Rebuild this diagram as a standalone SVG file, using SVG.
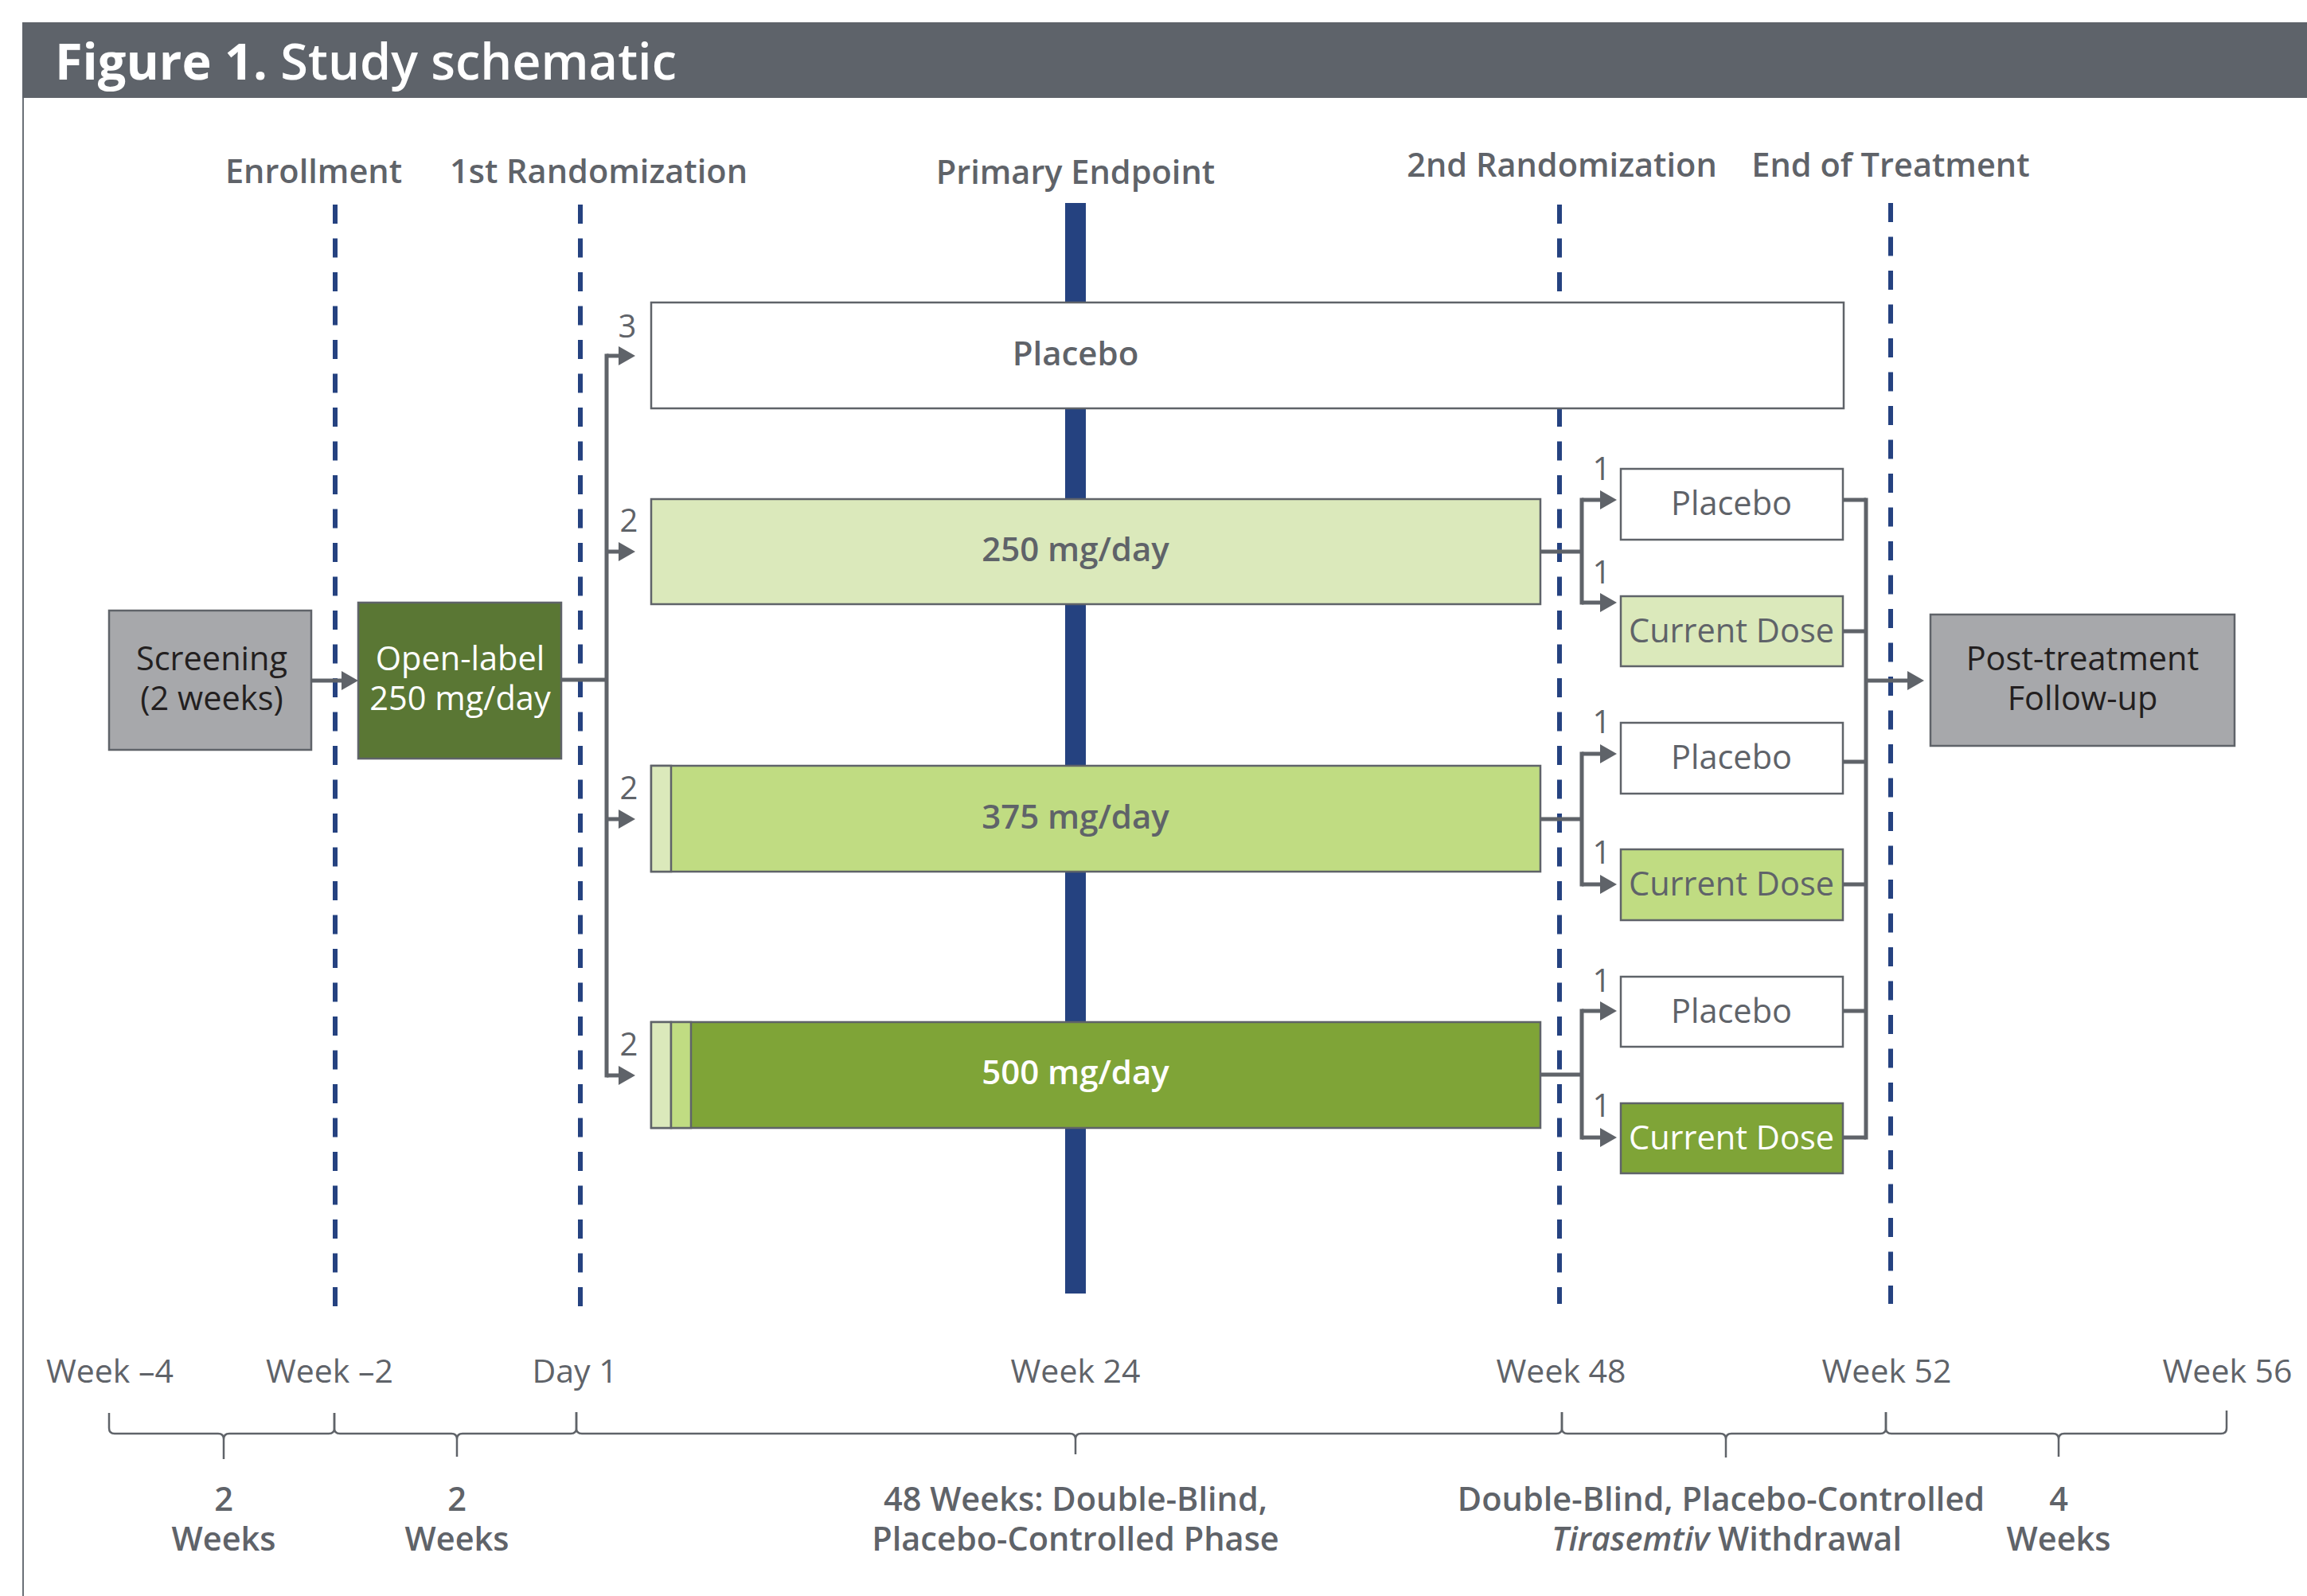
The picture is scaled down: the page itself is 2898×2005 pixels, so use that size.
<svg xmlns="http://www.w3.org/2000/svg" width="2898" height="2005" viewBox="0 0 2898 2005">
  <style>
    text { font-family: "Open Sans", "Noto Sans", "Liberation Sans", sans-serif; }
    .title { fill: #ffffff; font-size: 63px; font-weight: 700; }
    .milestone { fill: #5f6369; font-size: 41.5px; font-weight: 600; text-anchor: middle; }
    .week { fill: #5f6369; font-size: 41px; font-weight: 400; text-anchor: middle; }
    .span { fill: #5f6369; font-size: 41.5px; font-weight: 600; text-anchor: middle; }
    .ratio { fill: #5f6369; font-size: 40px; font-weight: 400; text-anchor: middle; }
    .box { stroke: #5f6369; stroke-width: 2.5; }
    .dark { fill: #231f20; font-size: 41.5px; text-anchor: middle; }
    .white { fill: #ffffff; font-size: 41.5px; text-anchor: middle; }
    .grey { fill: #5f6369; font-size: 41.5px; text-anchor: middle; }
    .armlabel { font-size: 42px; font-weight: 600; text-anchor: middle; }
    .dash { stroke: #254280; stroke-width: 6; stroke-dasharray: 24 18.5; fill: none; }
    .conn { stroke: #5f6369; stroke-width: 5; fill: none; }
    .brace { stroke: #5f6369; stroke-width: 2.5; fill: none; }
  </style>
  <defs>
    <marker id="arrow" markerUnits="userSpaceOnUse" markerWidth="22" markerHeight="24" refX="0" refY="12" orient="auto" overflow="visible">
      <path d="M0,0 L21,12 L0,24 Z" fill="#5f6369"/>
    </marker>
  </defs>

  <rect width="2898" height="2005" fill="#ffffff"/>

  <!-- header band -->
  <g id="header">
    <rect x="28" y="28" width="2870" height="95" fill="#5e636a"/>
    <line x1="29" y1="123" x2="29" y2="2005" stroke="#6b7077" stroke-width="2"/>
    <text class="title" x="69" y="100">Figure 1.<tspan font-weight="600"> Study schematic</tspan></text>
  </g>

  <!-- milestone markers -->
  <g id="milestones">
    <text class="milestone" x="394" y="230">Enrollment</text>
    <text class="milestone" x="752" y="230">1st Randomization</text>
    <text class="milestone" x="1351" y="231">Primary Endpoint</text>
    <text class="milestone" x="1962" y="222">2nd Randomization</text>
    <text class="milestone" x="2375" y="222">End of Treatment</text>
    <path class="dash" d="M421,257 V1641"/>
    <path class="dash" d="M729,257 V1641"/>
    <path class="dash" d="M1959,257 V1638"/>
    <path class="dash" d="M2375,255 V1638"/>
    <rect id="primary-endpoint-bar" x="1338" y="255" width="26" height="1370" fill="#254280"/>
  </g>

  <!-- connectors -->
  <g id="connectors">
    <path class="conn" d="M391,855 H429" marker-end="url(#arrow)"/>
    <path class="conn" d="M705,854 H762"/>
    <path class="conn" d="M762,444.5 V1353.5"/>
    <path class="conn" d="M762,447 H777" marker-end="url(#arrow)"/>
    <path class="conn" d="M762,693 H777" marker-end="url(#arrow)"/>
    <path class="conn" d="M762,1029 H777" marker-end="url(#arrow)"/>
    <path class="conn" d="M762,1351 H777" marker-end="url(#arrow)"/>

    <path class="conn" d="M1935,693 H1987"/>
    <path class="conn" d="M1987,625.5 V759.5"/>
    <path class="conn" d="M1987,628 H2010" marker-end="url(#arrow)"/>
    <path class="conn" d="M1987,757 H2010" marker-end="url(#arrow)"/>

    <path class="conn" d="M1935,1029 H1987"/>
    <path class="conn" d="M1987,944.5 V1113.5"/>
    <path class="conn" d="M1987,947 H2010" marker-end="url(#arrow)"/>
    <path class="conn" d="M1987,1111 H2010" marker-end="url(#arrow)"/>

    <path class="conn" d="M1935,1350 H1987"/>
    <path class="conn" d="M1987,1267.5 V1431.5"/>
    <path class="conn" d="M1987,1270 H2010" marker-end="url(#arrow)"/>
    <path class="conn" d="M1987,1429 H2010" marker-end="url(#arrow)"/>

    <path class="conn" d="M2315,628 H2344 M2315,793 H2344 M2315,957 H2344 M2315,1111 H2344 M2315,1270 H2344 M2315,1429 H2344"/>
    <path class="conn" d="M2344,625.5 V1431.5"/>
    <path class="conn" d="M2344,855 H2396" marker-end="url(#arrow)"/>

    <text class="ratio" x="788" y="424">3</text>
    <text class="ratio" x="790" y="668">2</text>
    <text class="ratio" x="790" y="1004">2</text>
    <text class="ratio" x="790" y="1326">2</text>
    <text class="ratio" x="2012" y="603">1</text>
    <text class="ratio" x="2012" y="733">1</text>
    <text class="ratio" x="2012" y="921">1</text>
    <text class="ratio" x="2012" y="1085">1</text>
    <text class="ratio" x="2012" y="1246">1</text>
    <text class="ratio" x="2012" y="1403">1</text>
  </g>

  <!-- nodes -->
  <g id="screening">
    <rect class="box" x="137" y="767" width="254" height="175" fill="#a7a8ab"/>
    <text class="dark" x="266" y="842">Screening</text>
    <text class="dark" x="266" y="892">(2 weeks)</text>
  </g>
  <g id="open-label">
    <rect class="box" x="450" y="757" width="255" height="196" fill="#5a7734"/>
    <text class="white" x="578" y="842">Open-label</text>
    <text class="white" x="578" y="892">250 mg/day</text>
  </g>

  <g id="arm-placebo">
    <rect class="box" x="818" y="380" width="1498" height="133" fill="#ffffff"/>
    <text class="armlabel" x="1351" y="459" fill="#5f6369">Placebo</text>
  </g>
  <g id="arm-250">
    <rect class="box" x="818" y="627" width="1117" height="132" fill="#dbe9bb"/>
    <text class="armlabel" x="1351" y="705" fill="#5f6369">250 mg/day</text>
  </g>
  <g id="arm-375">
    <rect class="box" x="818" y="962" width="1117" height="133" fill="#c0dc82"/>
    <rect class="box" x="818" y="962" width="25" height="133" fill="#dbe9bb"/>
    <text class="armlabel" x="1351" y="1041" fill="#5f6369">375 mg/day</text>
  </g>
  <g id="arm-500">
    <rect class="box" x="818" y="1284" width="1117" height="133" fill="#7fa437"/>
    <rect class="box" x="818" y="1284" width="25" height="133" fill="#dbe9bb"/>
    <rect class="box" x="843" y="1284" width="25" height="133" fill="#c0dc82"/>
    <text class="armlabel" x="1351" y="1362" fill="#ffffff">500 mg/day</text>
  </g>

  <g id="w250-placebo">
    <rect class="box" x="2036" y="589" width="279" height="89" fill="#ffffff"/>
    <text class="grey" x="2175" y="647">Placebo</text>
  </g>
  <g id="w250-current">
    <rect class="box" x="2036" y="749" width="279" height="88" fill="#dbe9bb"/>
    <text class="grey" x="2175" y="807">Current Dose</text>
  </g>
  <g id="w375-placebo">
    <rect class="box" x="2036" y="908" width="279" height="89" fill="#ffffff"/>
    <text class="grey" x="2175" y="966">Placebo</text>
  </g>
  <g id="w375-current">
    <rect class="box" x="2036" y="1067" width="279" height="89" fill="#c0dc82"/>
    <text class="grey" x="2175" y="1125">Current Dose</text>
  </g>
  <g id="w500-placebo">
    <rect class="box" x="2036" y="1227" width="279" height="88" fill="#ffffff"/>
    <text class="grey" x="2175" y="1285">Placebo</text>
  </g>
  <g id="w500-current">
    <rect class="box" x="2036" y="1386" width="279" height="88" fill="#7fa437"/>
    <text class="white" x="2175" y="1444">Current Dose</text>
  </g>

  <g id="follow-up">
    <rect class="box" x="2425" y="772" width="382" height="165" fill="#a7a8ab"/>
    <text class="dark" x="2616" y="842">Post-treatment</text>
    <text class="dark" x="2616" y="892">Follow-up</text>
  </g>

  <!-- timeline -->
  <g id="timeline">
    <text class="week" x="138" y="1737">Week –4</text>
    <text class="week" x="414" y="1737">Week –2</text>
    <text class="week" x="722" y="1737">Day 1</text>
    <text class="week" x="1351" y="1737">Week 24</text>
    <text class="week" x="1961" y="1737">Week 48</text>
    <text class="week" x="2370" y="1737">Week 52</text>
    <text class="week" x="2798" y="1737">Week 56</text>

    <path class="brace" d="M137,1775 V1794 Q137,1801 144,1801 H274 Q281,1801 281,1808 V1833 M281,1808 Q281,1801 288,1801 H413 Q420,1801 420,1794 V1775"/>
    <path class="brace" d="M420,1775 V1794 Q420,1801 427,1801 H567 Q574,1801 574,1808 V1830 M574,1808 Q574,1801 581,1801 H717 Q724,1801 724,1794 V1774"/>
    <path class="brace" d="M724,1774 V1794 Q724,1801 731,1801 H1344 Q1351,1801 1351,1808 V1827 M1351,1808 Q1351,1801 1358,1801 H1955 Q1962,1801 1962,1794 V1774"/>
    <path class="brace" d="M1962,1774 V1794 Q1962,1801 1969,1801 H2161 Q2168,1801 2168,1808 V1831 M2168,1808 Q2168,1801 2175,1801 H2362 Q2369,1801 2369,1794 V1774"/>
    <path class="brace" d="M2369,1774 V1794 Q2369,1801 2376,1801 H2579 Q2586,1801 2586,1808 V1830 M2586,1808 Q2586,1801 2593,1801 H2790 Q2797,1801 2797,1794 V1772"/>

    <text class="span" x="281" y="1898">2</text>
    <text class="span" x="281" y="1948">Weeks</text>
    <text class="span" x="574" y="1898">2</text>
    <text class="span" x="574" y="1948">Weeks</text>
    <text class="span" x="1351" y="1898">48 Weeks: Double-Blind,</text>
    <text class="span" x="1351" y="1948">Placebo-Controlled Phase</text>
    <text class="span" x="2162" y="1898">Double-Blind, Placebo-Controlled</text>
    <text class="span" x="2169" y="1948"><tspan font-style="italic">Tirasemtiv</tspan> Withdrawal</text>
    <text class="span" x="2586" y="1898">4</text>
    <text class="span" x="2586" y="1948">Weeks</text>
  </g>
</svg>
